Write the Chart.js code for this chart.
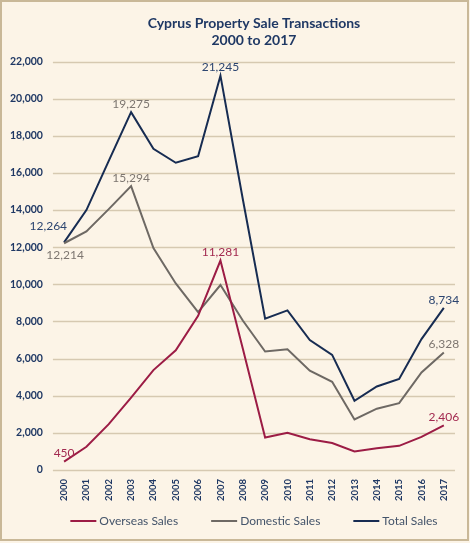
<!DOCTYPE html>
<html>
<head>
<meta charset="utf-8">
<script src="https://cdn.jsdelivr.net/npm/chart.js@4.4.1/dist/chart.umd.min.js"></script>
<style>
  html, body { margin: 0; padding: 0; background: #fcf4e7; }
  #wrap { position: relative; width: 470px; height: 543px; background: #fcf4e7; }
  #edge { position: absolute; left: 0; top: 0; width: 465px; height: 537px;
          border: 2px solid #c9b898; pointer-events: none; }
</style>
</head>
<body>
<div id="wrap">
  <canvas id="salesChart" width="470" height="543"></canvas>
  <div id="edge"></div>
</div>
<script>
const years = ['2000', '2001', '2002', '2003', '2004', '2005', '2006', '2007', '2008',
  '2009', '2010', '2011', '2012', '2013', '2014', '2015', '2016', '2017'];
const overseasSales = [450, 1250, 2470, 3900, 5380, 6450, 8300, 11281, 6550,
  1750, 2000, 1650, 1450, 1000, 1170, 1300, 1780, 2406];
const domesticSales = [12214, 12850, 14050, 15294, 11950, 10050, 8500, 9964, 8050,
  6380, 6500, 5350, 4750, 2720, 3300, 3600, 5250, 6328];
const totalSales = [12264, 14000, 16650, 19275, 17300, 16550, 16900, 21245, 14600,
  8150, 8600, 7000, 6200, 3730, 4500, 4900, 7050, 8734];
const yTicks = [0, 2000, 4000, 6000, 8000, 10000, 12000, 14000, 16000, 18000, 20000, 22000];

// which points get a value label: [dataset, index, colour, placement]
const pointLabels = [
  [2, 0, '#2c4570', 'left'],
  [1, 0, '#7d7670', 'below'],
  [2, 3, '#7d7670', 'above'],
  [2, 7, '#2c4570', 'above'],
  [1, 3, '#7d7670', 'above'],
  [0, 7, '#a32a50', 'above'],
  [0, 0, '#a32a50', 'above'],
  [0, 17, '#a32a50', 'above'],
  [1, 17, '#7d7670', 'above'],
  [2, 17, '#2c4570', 'above']
];

const fmt = v => v.toLocaleString('en-US');

// horizontal gridlines at the y tick values, placed by the y scale
const hGrid = {
  id: 'hGrid',
  beforeDatasetsDraw(chart) {
    const c = chart.ctx;
    const area = chart.chartArea;
    const y = chart.scales.y;
    c.save();
    c.strokeStyle = '#d6c9b1';
    c.lineWidth = 1.6;
    yTicks.forEach(v => {
      const py = Math.round(y.getPixelForValue(v)) + 0.5;
      c.beginPath();
      c.moveTo(area.left, py);
      c.lineTo(area.right, py);
      c.stroke();
    });
    c.restore();
  }
};

const valueLabels = {
  id: 'valueLabels',
  afterDatasetsDraw(chart) {
    const c = chart.ctx;
    c.save();
    c.font = '12px Lato';
    c.textBaseline = 'middle';
    pointLabels.forEach(([ds, i, color, where]) => {
      const pt = chart.getDatasetMeta(ds).data[i];
      const text = fmt(chart.data.datasets[ds].data[i]);
      c.fillStyle = color;
      if (where === 'left') {
        c.textAlign = 'right';
        c.fillText(text, pt.x + 3, pt.y - 16);
      } else if (where === 'below') {
        c.textAlign = 'center';
        c.fillText(text, pt.x + 1, pt.y + 12);
      } else {
        c.textAlign = 'center';
        c.fillText(text, pt.x, pt.y - 8);
      }
    });
    c.restore();
  }
};

// legend row under the axis, centred on the plot like the original
const bottomLegend = {
  id: 'bottomLegend',
  afterDraw(chart) {
    const c = chart.ctx;
    const area = chart.chartArea;
    const gap = 33, lineLen = 26, textGap = 3;
    c.save();
    c.font = '12px Lato';
    c.textBaseline = 'middle';
    c.textAlign = 'left';
    const items = chart.data.datasets.map(d => ({
      label: d.label, color: d.borderColor, w: lineLen + textGap + c.measureText(d.label).width
    }));
    const total = items.reduce((s, it) => s + it.w, 0) + gap * (items.length - 1);
    let x = (area.left + area.right) / 2 - total / 2;
    const y = 521;
    items.forEach(it => {
      c.strokeStyle = it.color;
      c.lineWidth = 2;
      c.beginPath();
      c.moveTo(x, y);
      c.lineTo(x + lineLen, y);
      c.stroke();
      c.fillStyle = '#44546a';
      c.fillText(it.label, x + lineLen + textGap, y);
      x += it.w + gap;
    });
    c.restore();
  }
};

new Chart(document.getElementById('salesChart'), {
  type: 'line',
  data: {
    labels: years,
    datasets: [
      { label: 'Overseas Sales', data: overseasSales, borderColor: '#9c1c45', backgroundColor: '#9c1c45' },
      { label: 'Domestic Sales', data: domesticSales, borderColor: '#6e6964', backgroundColor: '#6e6964' },
      { label: 'Total Sales', data: totalSales, borderColor: '#172c52', backgroundColor: '#172c52' }
    ]
  },
  options: {
    responsive: false,
    animation: false,
    elements: {
      line: { borderWidth: 2, tension: 0 },
      point: { radius: 0 }
    },
    layout: { padding: { left: 0, right: 15, top: 4, bottom: 33 } },
    scales: {
      x: {
        offset: true,
        grid: { display: false, drawTicks: false },
        border: { display: false },
        ticks: {
          color: '#1f3864',
          font: { family: 'Lato', size: 9.5, weight: 'bold' },
          maxRotation: 90,
          minRotation: 90,
          padding: 9
        }
      },
      y: {
        min: yTicks[0],
        max: yTicks[yTicks.length - 1],
        grid: { display: false, drawTicks: false },
        border: { display: false },
        ticks: {
          stepSize: yTicks[1] - yTicks[0],
          color: '#1f3864',
          font: { family: 'Lato', size: 10.5, weight: 'bold' },
          padding: 10,
          callback: v => fmt(v)
        }
      }
    },
    plugins: {
      title: {
        display: true,
        fullSize: false,
        text: ['Cyprus Property Sale Transactions', '2000 to 2017'],
        color: '#1f3864',
        font: { family: 'Lato', size: 14, weight: 'bold', lineHeight: 1.2 },
        padding: { top: 11, bottom: 13 }
      },
      legend: { display: false },
      tooltip: { enabled: false }
    }
  },
  plugins: [hGrid, valueLabels, bottomLegend]
});
</script>
</body>
</html>
